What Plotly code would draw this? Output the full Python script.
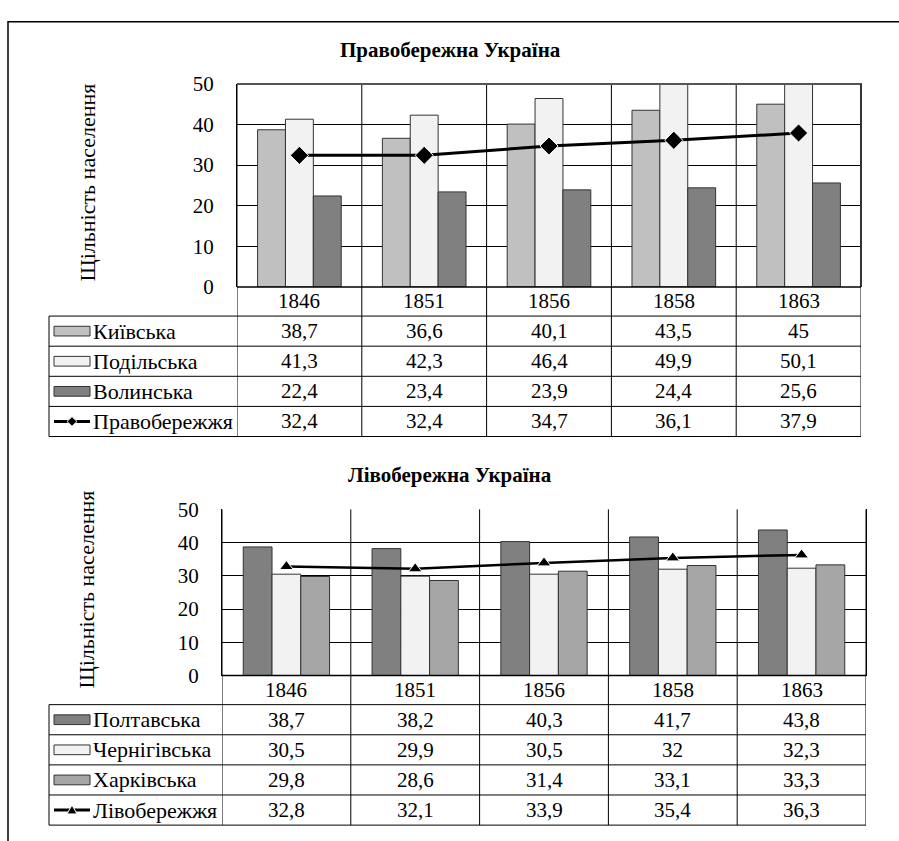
import plotly.graph_objs as go

W, H = 899, 841
FONT = "'Liberation Serif', 'Times New Roman', Times, serif"

years = ['1846', '1851', '1856', '1858', '1863']

# Правобережна Україна
right_names = ['Київська', 'Подільська', 'Волинська']
kyiv = [38.7, 36.6, 40.1, 43.5, 45]
podillia = [41.3, 42.3, 46.4, 49.9, 50.1]
volyn = [22.4, 23.4, 23.9, 24.4, 25.6]
right_total_name = 'Правобережжя'
right_total = [32.4, 32.4, 34.7, 36.1, 37.9]

# Лівобережна Україна
left_names = ['Полтавська', 'Чернігівська', 'Харківська']
poltava = [38.7, 38.2, 40.3, 41.7, 43.8]
chernihiv = [30.5, 29.9, 30.5, 32, 32.3]
kharkiv = [29.8, 28.6, 31.4, 33.1, 33.3]
left_total_name = 'Лівобережжя'
left_total = [32.8, 32.1, 33.9, 35.4, 36.3]

y_title = 'Щільність населення'


def px(x):
    return x / W


def py(y):
    return 1 - y / H


def fmt(v):
    return ('%g' % v).replace('.', ',')


fig = go.Figure()
shapes = []
annotations = []


def panel(n, title, names, series, colors, total_name, total, symbol, msize, lwidth,
          left, right, top, zero, gap, title_y, heavy_edge):
    xa = 'x' if n == 1 else 'x%d' % n
    ya = 'y' if n == 1 else 'y%d' % n
    for name, vals, col in zip(names, series, colors):
        fig.add_trace(go.Bar(
            x=years, y=vals, name=name, xaxis=xa, yaxis=ya,
            marker=dict(color=col, line=dict(color='#333333', width=1)),
            showlegend=False,
        ))
    fig.add_trace(go.Scatter(
        x=years, y=total, name=total_name, xaxis=xa, yaxis=ya,
        mode='lines+markers',
        line=dict(color='black', width=lwidth),
        marker=dict(symbol=symbol, size=msize, color='black',
                    line=dict(color='white', width=1)),
        showlegend=False, cliponaxis=False,
    ))
    xkey = 'xaxis' if n == 1 else 'xaxis%d' % n
    ykey = 'yaxis' if n == 1 else 'yaxis%d' % n
    fig.layout[xkey] = dict(
        domain=[px(left), px(right)], anchor=ya, type='category',
        range=[-0.5, len(years) - 0.5], showticklabels=False,
        showgrid=False, showline=False, zeroline=False, ticks='',
    )
    fig.layout[ykey] = dict(
        domain=[py(zero), py(top)], anchor=xa, range=[0, 50], dtick=10,
        showgrid=True, gridcolor='black', gridwidth=1, zeroline=False,
        showline=True, mirror=True, linecolor='black', linewidth=1,
        ticks='', ticklabelstandoff=18,
        tickfont=dict(family=FONT, size=21, color='black'),
    )
    fig.update_layout(bargap=gap, bargroupgap=0)

    row_h = 31
    rows_top = zero + 30
    bottom = rows_top + 4 * row_h
    # vertical category lines through plot and table
    for i in range(len(years) + 1):
        shapes.append(dict(type='line', xref=xa, yref='paper',
                           x0=i - 0.5, x1=i - 0.5, y0=py(top), y1=py(bottom),
                           line=dict(color='black', width=1)))
    if heavy_edge:
        # darker, heavier upper and right frame edges
        shapes.append(dict(type='line', xref='paper', yref='paper',
                           x0=px(left), x1=px(right + 1), y0=py(top), y1=py(top),
                           line=dict(color='#555555', width=2)))
        shapes.append(dict(type='line', xref='paper', yref='paper',
                           x0=px(right), x1=px(right), y0=py(top), y1=py(zero),
                           line=dict(color='#333333', width=2)))
    # horizontal table lines
    shapes.append(dict(type='line', xref='paper', yref='paper',
                       x0=px(left), x1=px(right), y0=py(zero), y1=py(zero),
                       line=dict(color='black', width=1.5)))
    for r in range(5):
        yy = rows_top + r * row_h
        shapes.append(dict(type='line', xref='paper', yref='paper',
                           x0=px(49), x1=px(right), y0=py(yy), y1=py(yy),
                           line=dict(color='black', width=1)))
    shapes.append(dict(type='line', xref='paper', yref='paper',
                       x0=px(49), x1=px(49), y0=py(rows_top), y1=py(bottom),
                       line=dict(color='black', width=1)))
    # header years
    for i, yr in enumerate(years):
        annotations.append(dict(xref=xa, yref='paper', x=i, y=py(zero + 15),
                                text=yr, showarrow=False, yanchor='middle',
                                font=dict(family=FONT, size=21, color='black')))
    all_vals = list(series) + [total]
    all_names = list(names) + [total_name]
    for r, (name, vals) in enumerate(zip(all_names, all_vals)):
        cy = rows_top + r * row_h + row_h / 2
        for i, v in enumerate(vals):
            annotations.append(dict(xref=xa, yref='paper', x=i, y=py(cy),
                                    text=fmt(v), showarrow=False, yanchor='middle',
                                    font=dict(family=FONT, size=21, color='black')))
        annotations.append(dict(xref='paper', yref='paper', x=px(91), y=py(cy),
                                xanchor='left', yanchor='middle', text=name,
                                showarrow=False,
                                font=dict(family=FONT, size=22, color='black')))
        if r < 3:
            shapes.append(dict(type='rect', xref='paper', yref='paper',
                               x0=px(54), x1=px(90), y0=py(cy - 5), y1=py(cy + 5),
                               fillcolor=colors[r], line=dict(color='#333333', width=1)))
        else:
            shapes.append(dict(type='line', xref='paper', yref='paper',
                               x0=px(54), x1=px(90), y0=py(cy), y1=py(cy),
                               line=dict(color='black', width=3)))
            cx = 72
            if symbol == 'diamond':
                path = 'M %f %f L %f %f L %f %f L %f %f Z' % (
                    px(cx - 5), py(cy), px(cx), py(cy - 5),
                    px(cx + 5), py(cy), px(cx), py(cy + 5))
            else:
                path = 'M %f %f L %f %f L %f %f Z' % (
                    px(cx - 5), py(cy + 4), px(cx), py(cy - 5), px(cx + 5), py(cy + 4))
            shapes.append(dict(type='path', xref='paper', yref='paper', path=path,
                               fillcolor='black', line=dict(color='white', width=1)))
    annotations.append(dict(xref='paper', yref='paper', x=px(450), y=py(title_y),
                            yanchor='middle', text='<b>%s</b>' % title, showarrow=False,
                            font=dict(family=FONT, size=21, color='black')))
    annotations.append(dict(xref='paper', yref='paper', x=px(87), y=py((top + zero) / 2 - 3),
                            xanchor='center', yanchor='middle',
                            text=y_title, textangle=-90, showarrow=False,
                            font=dict(family=FONT, size=22, color='black')))


panel(1, 'Правобережна Україна', right_names, [kyiv, podillia, volyn],
      ['#C0C0C0', '#F2F2F2', '#808080'], right_total_name, right_total,
      'diamond', 14, 3, 237, 861, 74, 283, 0.335, 39, True)
panel(2, 'Лівобережна Україна', left_names, [poltava, chernihiv, kharkiv],
      ['#808080', '#F2F2F2', '#A6A6A6'], left_total_name, left_total,
      'triangle-up', 12, 2.5, 222, 866, 512, 683, 0.33, 477, False)

# outer frame
shapes.append(dict(type='rect', xref='paper', yref='paper',
                   x0=px(8), x1=px(920), y0=py(10), y1=py(860),
                   line=dict(color='black', width=1.5), fillcolor='rgba(0,0,0,0)'))

fig.update_layout(
    width=W, height=H, autosize=False,
    margin=dict(l=0, r=0, t=0, b=0),
    paper_bgcolor='white', plot_bgcolor='white',
    barmode='group', showlegend=False,
    font=dict(family=FONT, color='black'),
    shapes=shapes, annotations=annotations,
)

fig.write_html('out.html', config={'displayModeBar': False},
               post_script="document.body.style.margin='0';")
